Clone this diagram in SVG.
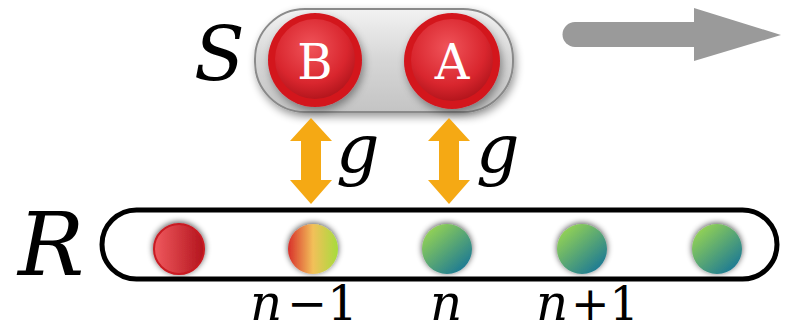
<svg xmlns="http://www.w3.org/2000/svg" width="786" height="333" viewBox="0 0 786 333">
<defs>
  <linearGradient id="pillG" x1="0" y1="0" x2="0" y2="1">
    <stop offset="0" stop-color="#f2f2f2"/>
    <stop offset="0.5" stop-color="#d6d6d6"/>
    <stop offset="1" stop-color="#c4c4c4"/>
  </linearGradient>
  <radialGradient id="bigRed" cx="0.45" cy="0.35" r="0.65">
    <stop offset="0" stop-color="#f0545a"/>
    <stop offset="0.7" stop-color="#d9262e"/>
    <stop offset="1" stop-color="#b5161d"/>
  </radialGradient>
  <linearGradient id="redBall" x1="0" y1="0" x2="1" y2="0">
    <stop offset="0" stop-color="#f05a5e"/>
    <stop offset="1" stop-color="#b3141d"/>
  </linearGradient>
  <linearGradient id="mixBall" x1="0" y1="0" x2="1" y2="0">
    <stop offset="0" stop-color="#d8302a"/>
    <stop offset="0.5" stop-color="#f2c05a"/>
    <stop offset="1" stop-color="#a6dc3c"/>
  </linearGradient>
  <linearGradient id="greenBall" x1="0.15" y1="0.1" x2="0.85" y2="0.9">
    <stop offset="0" stop-color="#93d255"/>
    <stop offset="1" stop-color="#1d7a94"/>
  </linearGradient>
  <filter id="sh" x="-50%" y="-50%" width="200%" height="200%">
    <feGaussianBlur in="SourceAlpha" stdDeviation="3"/>
    <feOffset dx="0" dy="-1" result="b"/>
    <feComponentTransfer><feFuncA type="linear" slope="0.7"/></feComponentTransfer>
    <feMerge><feMergeNode/><feMergeNode in="SourceGraphic"/></feMerge>
  </filter>
  <filter id="sh2" x="-30%" y="-30%" width="160%" height="160%">
    <feGaussianBlur in="SourceAlpha" stdDeviation="4"/>
    <feOffset dx="2" dy="4"/>
    <feComponentTransfer><feFuncA type="linear" slope="0.4"/></feComponentTransfer>
    <feMerge><feMergeNode/><feMergeNode in="SourceGraphic"/></feMerge>
  </filter>
  <style>
    text{font-family:"DejaVu Serif","Liberation Serif",serif}
    .math{font-style:italic;fill:#000}
    .num{fill:#000}
    .ballTxt{fill:#fff;font-size:48px;text-anchor:middle}
    .orange{fill:#f5a914}
  </style>
</defs>
<rect width="786" height="333" fill="#fff"/>

<g id="S-system">
  <rect x="255" y="9" width="258" height="103" rx="50" fill="url(#pillG)" stroke="#8a8a8a" stroke-width="2" filter="url(#sh2)"/>
  <text class="math" x="194" y="80" font-size="74">S</text>
</g>
<g id="ball-B">
  <circle cx="315" cy="60" r="47" fill="#d3141d" filter="url(#sh2)"/>
  <circle cx="315" cy="59" r="40" fill="url(#bigRed)"/>
  <text class="ballTxt" x="315" y="79">B</text>
</g>
<g id="ball-A">
  <circle cx="452" cy="61" r="48" fill="#d3141d" filter="url(#sh2)"/>
  <circle cx="452" cy="60" r="41" fill="url(#bigRed)"/>
  <text class="ballTxt" x="452" y="79">A</text>
</g>

<g id="R-reservoir">
  <rect x="102" y="210" width="675" height="69" rx="34.5" fill="#fff" stroke="#000" stroke-width="5"/>
  <text class="math" x="18" y="275" font-size="88">R</text>
</g>
<g id="site-0"><circle cx="179" cy="249" r="25" fill="url(#redBall)" stroke="#c81a22" stroke-width="2" filter="url(#sh)"/></g>
<g id="site-n-1">
  <circle cx="313" cy="249" r="25" fill="url(#mixBall)" filter="url(#sh)"/>
  <text class="math" x="250" y="320" font-size="50">n</text>
  <text class="num" x="287" y="320" font-size="48">−1</text>
</g>
<g id="site-n">
  <circle cx="447" cy="249" r="25" fill="url(#greenBall)" filter="url(#sh)"/>
  <text class="math" x="430" y="320" font-size="50">n</text>
</g>
<g id="site-n1">
  <circle cx="582" cy="249" r="25" fill="url(#greenBall)" filter="url(#sh)"/>
  <text class="math" x="536" y="320" font-size="50">n</text>
  <text class="num" x="571" y="320" font-size="46">+1</text>
</g>
<g id="site-4"><circle cx="717" cy="249" r="25" fill="url(#greenBall)" filter="url(#sh)"/></g>

<g id="connectors">
  <path class="orange" d="M311,118 L332,141 L321,141 L321,180 L332,180 L311,204 L290,180 L301,180 L301,141 L290,141 Z"/>
  <path class="orange" d="M449,118 L470,141 L459,141 L459,180 L470,180 L449,204 L428,180 L439,180 L439,141 L428,141 Z"/>
  <text class="math" x="336" y="172" font-size="68">g</text>
  <text class="math" x="476" y="172" font-size="68">g</text>
  <path d="M575,34.5 L697,34.5" stroke="#9a9a9a" stroke-width="25" stroke-linecap="round" fill="none"/>
  <path d="M694,8 L781,35 L694,61 Z" fill="#9a9a9a"/>
</g>
</svg>
